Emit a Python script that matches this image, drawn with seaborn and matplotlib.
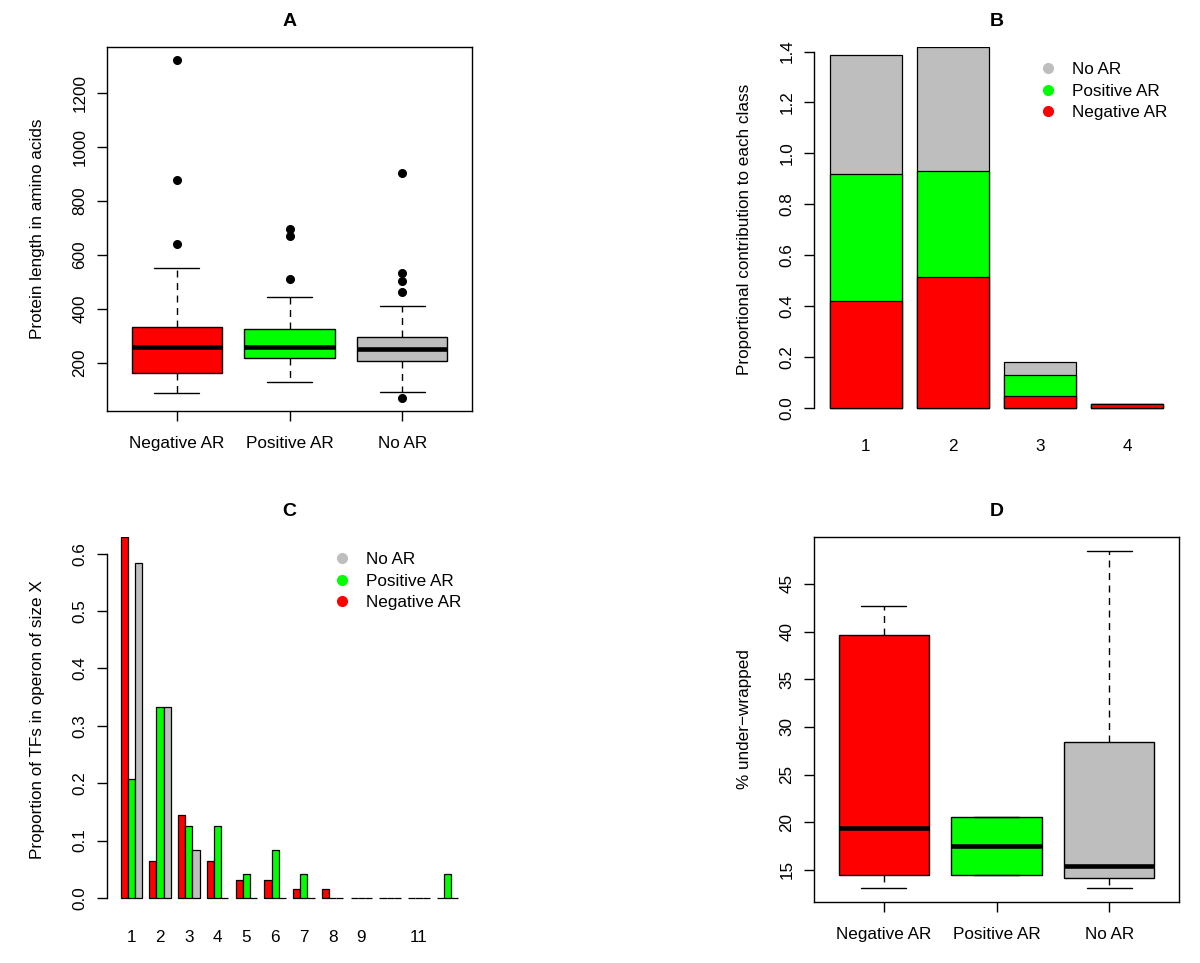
import matplotlib
matplotlib.use("Agg")
import matplotlib.pyplot as plt
from matplotlib.lines import Line2D
import numpy as np
import pandas as pd
import seaborn as sns

CLASSES = ["Negative AR", "Positive AR", "No AR"]
COLOURS = ["#FF0000", "#00FF00", "#BEBEBE"]

# A: protein length (box stats)
len_q1 = [163, 217, 205]
len_med = [258, 259, 251]
len_q3 = [331, 324, 297]
len_lo = [89, 128, 90]
len_hi = [551, 443, 410]
len_out = [[639, 877, 1322], [512, 670, 695], [69, 461, 503, 533, 903]]

# B: proportional contribution to each class
contrib_groups = ["1", "2", "3", "4"]
contrib_neg = [0.419, 0.516, 0.047, 0.016]
contrib_pos = [0.499, 0.416, 0.084, 0.0]
contrib_none = [0.469, 0.486, 0.051, 0.0]

# C: proportion of TFs in operon of size X
operon_sizes = [str(i) for i in range(1, 13)]
operon_labels = ["1", "2", "3", "4", "5", "6", "7", "8", "9", "", "11", ""]
operon_neg = [0.629, 0.065, 0.145, 0.065, 0.032, 0.032, 0.016, 0.016, 0, 0, 0, 0]
operon_pos = [0.208, 0.333, 0.125, 0.125, 0.042, 0.083, 0.042, 0, 0, 0, 0, 0.042]
operon_none = [0.583, 0.333, 0.083, 0, 0, 0, 0, 0, 0, 0, 0, 0]

# D: % under-wrapped
wrap_q1 = [14.44, 14.51, 14.16]
wrap_med = [19.44, 17.52, 15.46]
wrap_q3 = [39.64, 20.53, 28.44]
wrap_lo = [13.11, 14.51, 13.07]
wrap_hi = [42.72, 20.53, 48.5]

FS = 12.3

sns.set_theme(style="ticks")
plt.rcParams["font.family"] = ["Liberation Sans", "DejaVu Sans"]
plt.rcParams.update({
    "axes.edgecolor": "black",
    "axes.linewidth": 1.0,
    "xtick.color": "black",
    "ytick.color": "black",
    "text.color": "black",
    "axes.labelcolor": "black",
})


def style_axis(ax, title, ylabel):
    ax.set_title(title, fontweight="bold", fontsize=14, pad=15)
    ax.set_ylabel(ylabel, fontsize=FS)
    ax.set_xlabel("")
    ax.yaxis.set_label_coords(-0.17, 0.5)
    ax.tick_params(axis="both", direction="out", length=7, width=1.0, labelsize=FS)
    ax.tick_params(axis="y", labelrotation=90, pad=7)
    for lab in ax.get_yticklabels():
        lab.set_va("center")


def box_panel(ax, q1, med, q3, lo, hi, outliers, ylim, yticks, title, ylabel):
    stats = []
    for i in range(3):
        stats.append(dict(label=CLASSES[i], q1=q1[i], med=med[i], q3=q3[i],
                          whislo=lo[i], whishi=hi[i], fliers=np.array(outliers[i], dtype=float)))
    bp = ax.bxp(stats, positions=[1, 2, 3], widths=0.8, capwidths=0.4,
                patch_artist=True, showfliers=True,
                boxprops=dict(edgecolor="black", linewidth=1.0),
                medianprops=dict(color="black", linewidth=3.3, solid_capstyle="butt"),
                whiskerprops=dict(color="black", linewidth=1.0, linestyle=(0, (5, 4))),
                capprops=dict(color="black", linewidth=1.0),
                flierprops=dict(marker="o", markerfacecolor="black",
                                markeredgecolor="black", markersize=5.5))
    for patch, col in zip(bp["boxes"], COLOURS):
        patch.set_facecolor(col)
    ax.set_xlim(0.38, 3.62)
    ax.set_ylim(*ylim)
    ax.set_xticks([1, 2, 3])
    ax.set_xticklabels(CLASSES)
    ax.set_yticks(yticks)
    ax.set_yticklabels([str(t) for t in yticks])
    for side in ["top", "right", "bottom", "left"]:
        ax.spines[side].set_visible(True)
    style_axis(ax, title, ylabel)
    ax.tick_params(axis="x", pad=11)


def legend_dots(ax, x, y):
    handles = [Line2D([0], [0], marker="o", linestyle="", markersize=7,
                      markerfacecolor=c, markeredgecolor=c)
               for c in [COLOURS[2], COLOURS[1], COLOURS[0]]]
    ax.legend(handles, ["No AR", "Positive AR", "Negative AR"], loc="upper left",
              bbox_to_anchor=(x, y), frameon=False, fontsize=FS, handlelength=1.0,
              handletextpad=0.9, labelspacing=0.37, borderpad=0, borderaxespad=0)


def bar_spines(ax, top):
    for side in ["top", "right", "bottom"]:
        ax.spines[side].set_visible(False)
    ax.spines["left"].set_bounds(0, top)


fig = plt.figure(figsize=(12, 9.63), dpi=100)
W, H = 365 / 1200, 364 / 963
ax_a = fig.add_axes([107 / 1200, 1 - 411 / 963, W, H])
ax_b = fig.add_axes([814 / 1200, 1 - 411 / 963, W, H])
ax_c = fig.add_axes([107 / 1200, 1 - 902 / 963, W, 365 / 963])
ax_d = fig.add_axes([814 / 1200, 1 - 902 / 963, W, 365 / 963])

# A
box_panel(ax_a, len_q1, len_med, len_q3, len_lo, len_hi, len_out,
          (21, 1372), [200, 400, 600, 800, 1000, 1200], "A",
          "Protein length in amino acids")

# B: stacked bars drawn from the top segment down
neg = np.array(contrib_neg)
pos = np.array(contrib_pos)
none = np.array(contrib_none)
bw = 1 / 1.2
for heights, col in [(neg + pos + none, COLOURS[2]), (neg + pos, COLOURS[1]), (neg, COLOURS[0])]:
    sns.barplot(x=contrib_groups, y=heights, color=col, width=bw, edgecolor="black",
                linewidth=0.9, errorbar=None, saturation=1, ax=ax_b)
ax_b.set_xlim(-0.597, 3.597)
ax_b.set_ylim(-0.012, 1.418)
ax_b.set_yticks(np.arange(0, 1.41, 0.2))
ax_b.set_yticklabels([f"{t:.1f}" for t in np.arange(0, 1.41, 0.2)])
bar_spines(ax_b, 1.4)
style_axis(ax_b, "B", "Proportional contribution to each class")
ax_b.tick_params(axis="x", length=0, pad=20)
legend_dots(ax_b, 0.619, 0.958)

# C: grouped bars
df_c = pd.DataFrame({
    "size": operon_sizes * 3,
    "prop": operon_neg + operon_pos + operon_none,
    "cls": [CLASSES[0]] * 12 + [CLASSES[1]] * 12 + [CLASSES[2]] * 12,
})
sns.barplot(data=df_c, x="size", y="prop", hue="cls", hue_order=CLASSES,
            order=operon_sizes, palette=COLOURS, width=0.75, edgecolor="black",
            linewidth=0.9, errorbar=None, saturation=1, legend=False, ax=ax_c)
ax_c.set_xlim(-0.845, 11.845)
ax_c.set_ylim(-0.007, 0.629)
ax_c.set_xticks(range(12))
ax_c.set_xticklabels(operon_labels)
ax_c.set_yticks(np.arange(0, 0.61, 0.1))
ax_c.set_yticklabels([f"{t:.1f}" for t in np.arange(0, 0.61, 0.1)])
bar_spines(ax_c, 0.6)
style_axis(ax_c, "C", "Proportion of TFs in operon of size X")
ax_c.tick_params(axis="x", length=0, pad=20)
legend_dots(ax_c, 0.62, 0.958)

# D
box_panel(ax_d, wrap_q1, wrap_med, wrap_q3, wrap_lo, wrap_hi, [[], [], []],
          (11.64, 49.93), [15, 20, 25, 30, 35, 40, 45], "D", "% under\u2212wrapped")

fig.savefig("out.png", dpi=100)
